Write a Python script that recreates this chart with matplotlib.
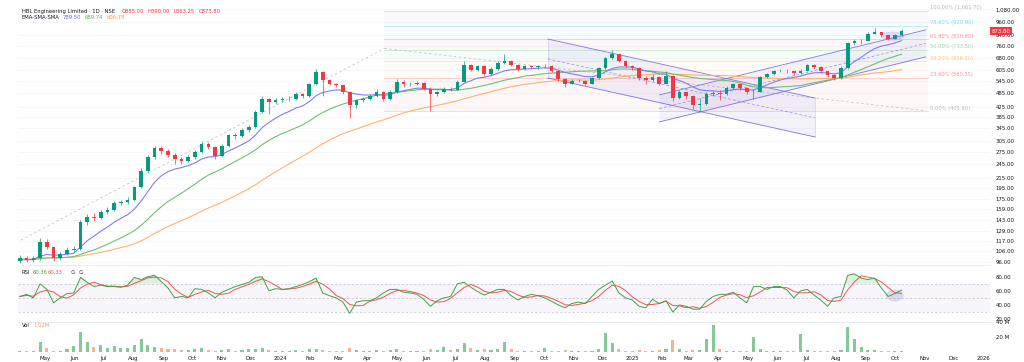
import numpy as np
import pandas as pd
import matplotlib
matplotlib.use('Agg')
import matplotlib.pyplot as plt
import matplotlib.dates as mdates
from matplotlib.patches import Ellipse
from matplotlib.ticker import FixedLocator, NullLocator, FuncFormatter
from matplotlib.transforms import blended_transform_factory

# weekly bars (HBL Engineering, NSE)
week_end = pd.date_range('2023-04-07', periods=132, freq='W-FRI')
# closes before the visible window, only used to warm up the moving averages
prior_closes = [88, 90, 92, 95, 93, 96, 98, 100, 97, 95, 99, 102, 104, 101, 98, 100,
                103, 105, 102, 99, 97, 100, 102, 98, 96, 99, 101, 97, 95, 98, 100,
                102, 99, 97, 95, 98, 96, 97, 99, 96]
first_open = 97
closes = [
    99, 98, 99, 116, 110, 99, 103, 107, 108, 140,
    148, 146, 155, 158, 168, 170, 174, 196, 228, 262,
    285, 278, 268, 258, 252, 262, 276, 298, 287, 265,
    292, 322, 320, 340, 350, 405, 455, 442, 452, 455,
    458, 478, 468, 525, 590, 550, 528, 520, 490, 430,
    452, 458, 470, 490, 455, 490, 540, 525, 528, 535,
    505, 480, 488, 505, 500, 540, 635, 605, 625, 580,
    610, 645, 660, 635, 608, 625, 620, 625, 625, 600,
    555, 530, 545, 545, 530, 560, 615, 675, 700, 660,
    625, 615, 560, 550, 565, 530, 570, 460, 490, 470,
    430, 435, 480, 485, 480, 510, 525, 510, 490, 490,
    565, 580, 598, 600, 595, 585, 600, 630, 620, 595,
    575, 560, 615, 780, 800, 800, 855, 865, 840, 815,
    840, 873.8]
highs = [
    102, 101, 101, 120, 119, 111, 105, 110, 112, 143,
    152, 153, 158, 162, 171, 174, 178, 199, 236, 268,
    292, 290, 282, 272, 262, 266, 280, 305, 302, 290,
    296, 328, 330, 345, 356, 412, 470, 460, 462, 465,
    470, 490, 485, 535, 610, 595, 556, 535, 524, 495,
    458, 465, 478, 505, 494, 498, 552, 548, 536, 545,
    540, 512, 495, 512, 512, 548, 655, 640, 635, 630,
    618, 655, 700, 665, 640, 632, 632, 633, 636, 630,
    605, 560, 552, 556, 550, 566, 622, 685, 730, 705,
    665, 632, 620, 570, 580, 570, 595, 575, 500, 495,
    475, 460, 490, 495, 498, 518, 532, 530, 515, 505,
    572, 588, 606, 612, 608, 600, 610, 640, 638, 625,
    600, 580, 625, 790, 815, 812, 865, 905, 870, 845,
    848, 890]
lows = [
    95, 96, 96, 98, 108, 97, 98, 102, 105, 107,
    137, 142, 144, 152, 156, 165, 167, 172, 194, 224,
    258, 270, 262, 246, 245, 249, 258, 272, 282, 258,
    262, 288, 312, 316, 334, 346, 400, 395, 436, 445,
    448, 452, 460, 465, 520, 470, 520, 512, 480, 380,
    420, 445, 452, 466, 448, 452, 486, 515, 518, 520,
    498, 406, 470, 482, 494, 498, 536, 596, 598, 570,
    575, 605, 640, 625, 598, 602, 612, 612, 615, 590,
    545, 515, 525, 536, 520, 526, 556, 610, 670, 650,
    615, 605, 548, 530, 545, 520, 525, 450, 455, 455,
    415, 405, 430, 468, 452, 476, 505, 500, 480, 455,
    488, 560, 575, 590, 586, 575, 580, 596, 612, 588,
    565, 548, 555, 610, 770, 775, 795, 850, 830, 808,
    812, 835]
volume_m = [
    2, 1.5, 2, 13, 5, 2, 2, 4, 8, 27,
    14, 7, 9, 6, 8, 6, 5, 9, 18, 10,
    7, 5, 4, 4, 3, 3, 4, 5, 3, 2,
    3, 4, 2, 3, 4, 4, 5, 3, 2, 2,
    2, 3, 2, 4, 4, 3, 2, 1.5, 2, 6,
    3, 2, 2, 3, 2, 3, 4, 2, 2, 2,
    2, 4, 3, 7, 3, 4, 12, 5, 3, 4,
    3, 4, 14, 4, 2, 2, 2, 2, 6, 2,
    2, 3, 2, 2, 2, 2, 4, 26, 12, 4,
    2, 2, 3, 2, 2, 3, 4, 16, 4, 2,
    3, 3, 18, 36, 4, 2, 2, 2, 2, 20,
    4, 2, 2, 2, 2, 2, 24, 3, 2, 2,
    2, 2, 3, 34, 17, 7, 3, 3, 2, 2,
    2, 1.5]
rsi = [
    52, 55, 50, 70, 62, 43, 50, 56, 57, 79,
    72, 66, 68, 66, 66, 65, 68, 79, 76, 80,
    82, 73, 64, 50, 52, 50, 63, 62, 57, 50,
    58, 62, 66, 69, 72, 79, 80, 60, 63, 62,
    63, 66, 69, 73, 78, 57, 53, 50, 44, 28,
    44, 46, 46, 50, 57, 62, 62, 58, 57, 55,
    48, 38, 46, 50, 52, 70, 72, 65, 59, 54,
    58, 62, 62, 53, 47, 52, 55, 53, 50, 45,
    40, 36, 42, 44, 42, 52, 62, 68, 74, 57,
    50, 47, 38, 36, 48, 42, 46, 30, 40, 38,
    34, 34, 45, 52, 55, 55, 58, 50, 43, 66,
    66, 62, 66, 66, 61, 50, 60, 62, 54, 47,
    38, 50, 52, 82, 84, 78, 76, 78, 64, 52,
    56, 61]

price_ticks = [96, 106, 117, 129, 143, 159, 175, 195, 215, 245, 275, 305,
               345, 385, 425, 485, 545, 605, 680, 760, 840, 960, 1080]

fib_prices = [405.90, 560.55, 656.20, 733.50, 810.80, 920.90, 1061.70]
fib_pct = ['0.00%', '23.60%', '38.20%', '50.00%', '61.80%', '78.60%', '100.00%']
fib_colors = ['#787b86', '#f23645', '#ff9800', '#4caf50', '#f23645', '#00bcd4', '#787b86']

UP, DOWN = '#089981', '#f23645'
CH = '#6a62d8'

n_prior = len(prior_closes)
full = pd.Series(prior_closes + closes)
ema = full.ewm(span=10, adjust=False).mean().values[n_prior:]
sma1 = full.rolling(20, min_periods=1).mean().values[n_prior:]
sma2 = full.rolling(40, min_periods=1).mean().values[n_prior:]
rsi_s = pd.Series(rsi, index=week_end)
rsi_ma = rsi_s.rolling(3, min_periods=1).mean()

o = np.array([first_open] + closes[:-1], dtype=float)
c = np.array(closes, dtype=float)
up = c >= o
cols = np.where(up, UP, DOWN)
xd = mdates.date2num(week_end) - 2

fig = plt.figure(figsize=(10.24, 3.62), dpi=100)
W, H = 1024, 362
L, R = 18, 990
ax = fig.add_axes([L / W, 1 - 264 / H, (R - L) / W, 262 / H])
ax_r = fig.add_axes([L / W, 1 - 321 / H, (R - L) / W, 56 / H], sharex=ax)
ax_v = fig.add_axes([L / W, 1 - 352 / H, (R - L) / W, 30 / H], sharex=ax)

d = mdates.datestr2num
xmin, xmax = d('2023-04-03'), d('2026-01-08')

# ---- price pane
ax.set_yscale('log')
ax.set_ylim(93.9, 1158)
ax.set_xlim(xmin, xmax)
for p in price_ticks:
    ax.axhline(p, color='#f2f4f8', lw=0.5, zorder=0)

# fib retracement
fx0, fx1 = d('2024-04-18'), d('2025-11-04')
for k in range(len(fib_prices)):
    ax.plot([fx0, fx1], [fib_prices[k]] * 2, color=fib_colors[k], lw=0.5, alpha=0.3, zorder=1)
    if k > 0:
        ax.fill_between([fx0, fx1], fib_prices[k - 1], fib_prices[k],
                        color=fib_colors[k], alpha=0.035, lw=0, zorder=0)
    ax.text(d('2025-11-07'), fib_prices[k] * 1.006,
            f"{fib_pct[k]} ({fib_prices[k]:,.2f})", color=fib_colors[k], alpha=0.55,
            fontsize=3.7, va='bottom', ha='left')

# dashed trend lines
ax.plot([d('2023-04-06'), d('2024-04-18')], [118, 742], color='#c3c5cc', lw=0.6, ls=(0, (3, 3)), zorder=1)
ax.plot([d('2024-04-18'), d('2025-11-02')], [742, 408], color='#c3c5cc', lw=0.6, ls=(0, (3, 3)), zorder=1)

# descending channel
dx = [d('2024-10-05'), d('2025-07-10')]
ax.fill_between(dx, [559, 317.5], [812, 461], color=CH, alpha=0.08, lw=0, zorder=1)
ax.plot(dx, [812, 461], color=CH, lw=0.6, alpha=0.85, zorder=2)
ax.plot(dx, [559, 317.5], color=CH, lw=0.6, alpha=0.85, zorder=2)
ax.plot(dx, [671, 381], color=CH, lw=0.5, ls=(0, (4, 3)), alpha=0.7, zorder=2)
ax.plot([dx[0]] * 2, [559, 812], color=CH, lw=0.4, alpha=0.3)
ax.plot([dx[1]] * 2, [317.5, 461], color=CH, lw=0.4, alpha=0.3)

# ascending channel
axx = [d('2025-01-29'), d('2025-11-02')]
ax.fill_between(axx, [366.7, 684], [475, 886], color=CH, alpha=0.07, lw=0, zorder=1)
ax.plot(axx, [366.7, 684], color=CH, lw=0.6, alpha=0.85, zorder=2)
ax.plot(axx, [475, 886], color=CH, lw=0.6, alpha=0.85, zorder=2)
ax.plot(axx, [417, 778], color=CH, lw=0.5, ls=(0, (4, 3)), alpha=0.7, zorder=2)

# moving averages
ax.plot(xd, sma2, color='#ffb26b', lw=0.8, zorder=3)
ax.plot(xd, sma1, color='#6fbf73', lw=0.8, zorder=3)
ax.plot(xd, ema, color='#7f7ff0', lw=0.8, zorder=3)

# candles
ax.vlines(xd, lows, highs, colors=cols, lw=0.5, zorder=4)
ax.bar(xd, np.maximum(np.abs(c - o), 0.5), bottom=np.minimum(o, c), width=3.8,
       color=cols, lw=0, zorder=5)

ax.add_patch(Ellipse((0.900, 0.870), 0.023, 0.032, transform=ax.transAxes,
                     facecolor=CH, alpha=0.2, edgecolor=CH, lw=0.4, zorder=6))

ax.yaxis.tick_right()
ax.yaxis.set_major_locator(FixedLocator(price_ticks))
ax.yaxis.set_minor_locator(NullLocator())
ax.yaxis.set_major_formatter(FuncFormatter(lambda v, p: f"{v:,.2f}"))
ax.tick_params(axis='y', length=0, pad=4, labelsize=3.9, labelcolor='#131722')
ax.tick_params(axis='x', length=0, labelbottom=False)

tr = blended_transform_factory(ax.transAxes, ax.transData)
ax.text(1.002, 873.8, '873.80', transform=tr, color='white', fontsize=3.9, va='center',
        ha='left', bbox=dict(boxstyle='square,pad=0.3', fc='#f23645', ec='none'), zorder=10,
        clip_on=False)

# ---- RSI pane
ax_r.set_ylim(17.2, 96.6)
ax_r.axhspan(30, 70, color='#7e57c2', alpha=0.05, lw=0)
for lv in (70, 50, 30):
    ax_r.axhline(lv, color='#a3a6af', lw=0.5, ls=(0, (3, 3)), alpha=0.7)
ax_r.fill_between(xd, rsi_s.values, 70, where=rsi_s.values > 70, interpolate=True,
                  color='#4caf50', alpha=0.18, lw=0)
ax_r.plot(xd, rsi_ma.values, color='#ef5350', lw=0.7)
ax_r.plot(xd, rsi_s.values, color='#43a047', lw=0.7)
ax_r.add_patch(Ellipse((0.902, 0.455), 0.0175, 0.2, transform=ax_r.transAxes,
                       facecolor=CH, alpha=0.2, edgecolor=CH, lw=0.4))
ax_r.yaxis.tick_right()
ax_r.set_yticks([20, 40, 60, 80])
ax_r.yaxis.set_major_formatter(FuncFormatter(lambda v, p: f"{v:.2f}"))
ax_r.tick_params(axis='y', length=0, pad=4, labelsize=3.9, labelcolor='#131722')
ax_r.tick_params(axis='x', length=0, labelbottom=False)

# ---- volume pane
ax_v.set_ylim(0, 40)
ax_v.bar(xd, volume_m, width=3.2, color=np.where(up, '#5cb87a', '#f59a6b'), alpha=0.75, lw=0)
ax_v.yaxis.tick_right()
ax_v.set_yticks([20, 40])
ax_v.set_yticklabels(['20 M', '40 M'])
ax_v.tick_params(axis='y', length=0, pad=4, labelsize=3.9, labelcolor='#131722')

ax_v.xaxis.set_major_locator(mdates.MonthLocator())
ax_v.xaxis.set_major_formatter(FuncFormatter(
    lambda v, p: str(mdates.num2date(v).year) if mdates.num2date(v).month == 1
    else mdates.num2date(v).strftime('%b')))
ax_v.tick_params(axis='x', length=0, pad=3, labelsize=3.9, labelcolor='#131722')

for a in (ax, ax_r, ax_v):
    for s in ('left', 'right', 'bottom'):
        a.spines[s].set_visible(False)
    a.spines['top'].set_visible(a is not ax)
    a.spines['top'].set_color('#e6e8ee')
    a.spines['top'].set_linewidth(0.6)

# ---- legends
def ft(x, y, s, color, **kw):
    fig.text(x / W, 1 - y / H, s, color=color, fontsize=3.8, va='center', ha='left', **kw)

ft(22, 11.7, 'HBL Engineering Limited · 1D · NSE', '#131722')
ft(122, 11.7, 'O885.00', '#f23645')
ft(147, 11.7, 'H890.00', '#f23645')
ft(173, 11.7, 'L863.25', '#f23645')
ft(199, 11.7, 'C873.80', '#f23645')
ft(22, 17.3, 'EMA-SMA-SMA', '#131722')
ft(63, 17.3, '789.50', '#6b6be8')
ft(85, 17.3, '689.74', '#5cb060')
ft(107, 17.3, '606.78', '#f59a4a')
ft(22, 272.3, 'RSI', '#131722')
ft(33, 272.3, '60.36', '#43a047')
ft(48, 272.3, '60.33', '#ef5350')
ft(71, 272.3, '∅', '#131722')
ft(79, 272.3, '∅', '#131722')
ft(22, 325.7, 'Vol', '#131722')
ft(33, 325.7, '1.02M', '#f59a6b')

fig.savefig('out.png', dpi=100)
